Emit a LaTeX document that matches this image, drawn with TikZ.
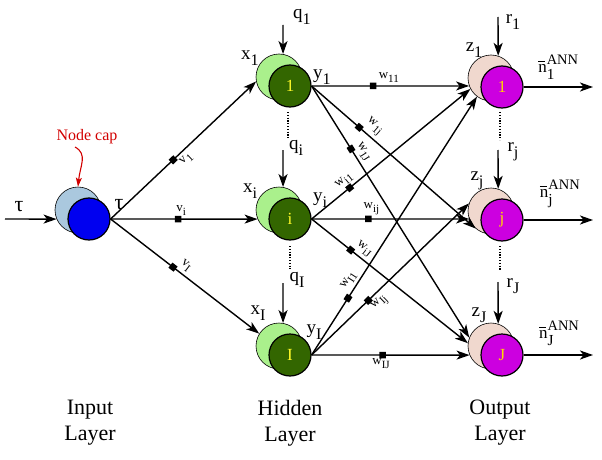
\documentclass[tikz,border=0pt]{standalone}
\usepackage{fontspec}
\setmainfont{Liberation Serif}
\usetikzlibrary{arrows.meta}
\definecolor{capgreen}{RGB}{170,240,140}
\definecolor{coregreen}{RGB}{51,102,0}
\definecolor{capblue}{RGB}{170,200,222}
\definecolor{coreblue}{RGB}{0,0,240}
\definecolor{cappink}{RGB}{240,216,206}
\definecolor{coremag}{RGB}{204,0,224}
\definecolor{numyellow}{RGB}{255,250,40}
\definecolor{numgold}{RGB}{255,215,0}
\definecolor{capred}{RGB}{210,0,0}
\newcommand\sbs[2]{#1\raisebox{-0.32em}{\scalebox{0.85}{#2}}}
\newcommand\nann[1]{\rlap{\raisebox{0.62em}{\rule{0.42em}{1.3pt}}}n\rlap{\raisebox{0.5em}{\scalebox{0.85}{ANN}}}\raisebox{-0.4em}{\scalebox{0.9}{#1}}\phantom{\scalebox{0.85}{ANN}}}
\newcommand\mkneuron[7]{%
  \node[capn, fill=#4] (#1c) at ({#2-11},{#3-9}) {};
  \node[coren, fill=#5, text=#6] (#1) at (#2,#3) {#7};
}
\tikzset{
  conn/.style={line width=1.4pt, -{Stealth[length=13pt,width=9pt,inset=3.5pt]}},
  capn/.style={circle, draw=black, line width=0.6pt, minimum size=46pt, inner sep=0pt},
  coren/.style={circle, draw=black, line width=1.2pt, minimum size=42pt, inner sep=0pt, font=\fontsize{17}{17}\selectfont},
  wsq/.style={fill=black, minimum size=6.5pt, inner sep=0pt, sloped},
  wlab/.style={font=\fontsize{13}{13}\selectfont, sloped, inner sep=3pt},
  lab/.style={font=\fontsize{19}{19}\selectfont, inner sep=0pt},
  dotsline/.style={line width=2.2pt, dash pattern=on 1.2pt off 1.6pt},
  title/.style={font=\fontsize{22}{26}\selectfont, align=center},
}
\begin{document}
\begin{tikzpicture}[x=1pt,y=-1pt]
\useasboundingbox (0,0) rectangle (602,460);

% neurons
\mkneuron{in}{89}{219}{capblue}{coreblue}{black}{}
\mkneuron{h1}{290}{86}{capgreen}{coregreen}{numyellow}{1}
\mkneuron{hi}{290}{219}{capgreen}{coregreen}{numyellow}{i}
\mkneuron{hI}{290}{355}{capgreen}{coregreen}{numyellow}{I}
\mkneuron{o1}{502}{87}{cappink}{coremag}{numgold}{1}
\mkneuron{oj}{502}{220}{cappink}{coremag}{numgold}{j}
\mkneuron{oJ}{502}{355}{cappink}{coremag}{numgold}{J}

% input arrow
\coordinate (tin) at (5,219);
\draw[conn] (tin) -- (inc.203);
\node[lab, font=\fontsize{22}{22}\selectfont] (tau1) at (19,207) {τ};
\node[lab, font=\fontsize{22}{22}\selectfont] (tau2) at (119,205) {τ};

% node cap annotation
\node[lab, text=capred, font=\fontsize{16}{16}\selectfont] (ncap) at (87,137) {Node cap};
\coordinate (ncs) at (75,147);
\draw[capred, line width=1.1pt, -{Stealth[length=9pt,width=6pt,inset=2pt]}] (ncs) .. controls (88,154) and (80,166) .. (inc.north);

% input -> hidden
\draw[conn] (in.east) -- (h1c.191)
  node[wsq,pos=.43]{} node[wlab,below,pos=.48]{\sbs{v}{1}};
\draw[conn] (in.east) -- (hic.203)
  node[wsq,pos=.46]{} node[wlab,above,pos=.48]{\sbs{v}{i}};
\draw[conn] (in.east) -- (hIc.148)
  node[wsq,pos=.42]{} node[wlab,above,pos=.47]{\sbs{v}{I}};

% hidden -> output
\draw[conn] (h1.east) -- (o1c.200)
  node[wsq,pos=.39]{} node[wlab,above,pos=.49]{\sbs{w}{11}};
\draw[conn] (h1.east) -- (ojc.229)
  node[wsq,pos=.29]{} node[wlab,above,pos=.34]{\sbs{w}{1j}};
\draw[conn] (h1.east) -- (oJc.159)
  node[wsq,pos=.25]{} node[wlab,above,pos=.28]{\sbs{w}{1J}};
\draw[conn] (hi.east) -- (o1c.208)
  node[wsq,pos=.24]{} node[wlab,above,pos=.24]{\sbs{w}{i1}};
\draw[conn] (hi.east) -- (ojc.200)
  node[wsq,pos=.36]{} node[wlab,above,pos=.38]{\sbs{w}{ij}};
\draw[conn] (hi.east) -- (oJc.173)
  node[wsq,pos=.25]{} node[wlab,above,pos=.30]{\sbs{w}{iJ}};
\draw[conn] (hI.east) -- (o1c.233)
  node[wsq,pos=.22]{} node[wlab,above,pos=.27]{\sbs{w}{I1}};
\draw[conn] (hI.east) -- (ojc.161)
  node[wsq,pos=.36]{} node[wlab,below,pos=.39]{\sbs{w}{Ij}};
\draw[conn] (hI.east) -- (oJc.203)
  node[wsq,pos=.45]{} node[wlab,below,pos=.44]{\sbs{w}{IJ}};

% output arrows
\coordinate (n1e) at (593,87);
\coordinate (nje) at (593,220);
\coordinate (nJe) at (593,355);
\draw[conn] (o1.east) -- (n1e);
\draw[conn] (oj.east) -- (nje);
\draw[conn] (oJ.east) -- (nJe);
\node[lab, font=\fontsize{17}{17}\selectfont] (n1) at (562,67) {\nann{1}};
\node[lab, font=\fontsize{17}{17}\selectfont] (nj) at (562,194) {\nann{j}};
\node[lab, font=\fontsize{17}{17}\selectfont] (nJ) at (562,333) {\nann{J}};

% bias arrows hidden
\coordinate (q1s) at (283,25);
\coordinate (qis) at (283,150);
\coordinate (qIs) at (283,283);
\draw[conn] (q1s) -- (h1c.80);
\draw[conn] (qis) -- (hic.80);
\draw[conn] (qIs) -- (hIc.80);
\node[lab] (q1) at (302,17) {\sbs{q}{1}};
\node[lab] (qi) at (296,148) {\sbs{q}{i}};
\node[lab] (qI) at (297,280) {\sbs{q}{I}};

% bias arrows output
\coordinate (r1s) at (498,17);
\coordinate (rjs) at (498,150);
\coordinate (rJs) at (498,282);
\draw[conn] (r1s) -- (o1c.72);
\draw[conn] (rjs) -- (ojc.72);
\draw[conn] (rJs) -- (oJc.72);
\node[lab] (r1) at (513,22) {\sbs{r}{1}};
\node[lab] (rj) at (513,152) {\sbs{r}{j}};
\node[lab] (rJ) at (513,286) {\sbs{r}{J}};

% x, y, z labels
\node[lab] (x1) at (250,58) {\sbs{x}{1}};
\node[lab] (xi) at (250,191) {\sbs{x}{i}};
\node[lab] (xI) at (258,313) {\sbs{x}{I}};
\node[lab] (y1) at (322,77) {\sbs{y}{1}};
\node[lab] (yi) at (320,200) {\sbs{y}{i}};
\node[lab] (yI) at (314,332) {\sbs{y}{I}};
\node[lab] (z1) at (474,50) {\sbs{z}{1}};
\node[lab] (zj) at (477,181) {\sbs{z}{j}};
\node[lab] (zJ) at (479,315) {\sbs{z}{J}};

% dotted continuation lines
\coordinate (d1a) at (288,112); \coordinate (d1b) at (288,138);
\coordinate (d2a) at (290,246); \coordinate (d2b) at (290,269);
\coordinate (d3a) at (500,112); \coordinate (d3b) at (500,140);
\coordinate (d4a) at (500,246); \coordinate (d4b) at (500,270);
\draw[dotsline] (d1a) -- (d1b);
\draw[dotsline] (d2a) -- (d2b);
\draw[dotsline] (d3a) -- (d3b);
\draw[dotsline] (d4a) -- (d4b);

% layer titles
\node[title] (tin1) at (90,423) {Input\\Layer};
\node[title] (thid) at (290,423) {Hidden\\Layer};
\node[title] (tout) at (500,423) {Output\\Layer};
\end{tikzpicture}
\end{document}
